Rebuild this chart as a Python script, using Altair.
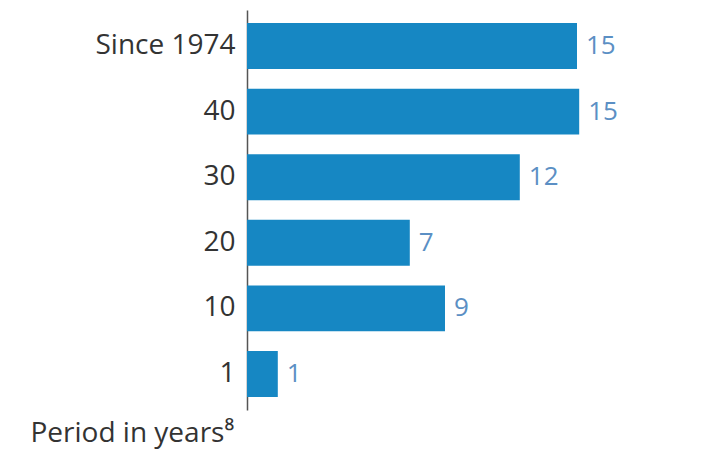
import altair as alt
import pandas as pd

periods = ["Since 1974", "40", "30", "20", "10", "1"]
values = [15.0, 15.1, 12.4, 7.4, 9.0, 1.4]

df = pd.DataFrame({"period": periods, "value": values})

base = alt.Chart(df).encode(
    y=alt.Y(
        "period:N",
        sort=periods,
        scale=alt.Scale(paddingInner=0.3, paddingOuter=0.2),
        axis=alt.Axis(
            title="Period in years⁸",
            titleAngle=0,
            titleAlign="left",
            titleBaseline="alphabetic",
            titleX=-217,
            titleY=431,
            titleFont="Open Sans",
            titleFontSize=28,
            titleFontWeight="normal",
            titleColor="#333333",
            labelFont="Open Sans",
            labelFontSize=28,
            labelColor="#333333",
            labelPadding=12,
            ticks=False,
            grid=False,
            domainColor="#555555",
            domainWidth=1.5,
        ),
    ),
    x=alt.X("value:Q", scale=alt.Scale(domain=[0, 18]), axis=None),
)

bars = base.mark_bar(color="#1687c3")
labels = base.mark_text(
    align="left", baseline="middle", dx=9, font="Open Sans", fontSize=26, color="#5b8fc4"
).encode(text=alt.Text("value:Q", format=".0f"))

chart = (
    (bars + labels)
    .properties(
        width=396,
        height=400,
        background="white",
        autosize=alt.AutoSizeParams(type="none"),
        padding={"left": 239, "top": 2, "right": 55, "bottom": 40},
    )
    .configure_view(strokeWidth=0, stroke=None)
)

chart.save("out.html", embed_options={"renderer": "svg", "actions": False})
